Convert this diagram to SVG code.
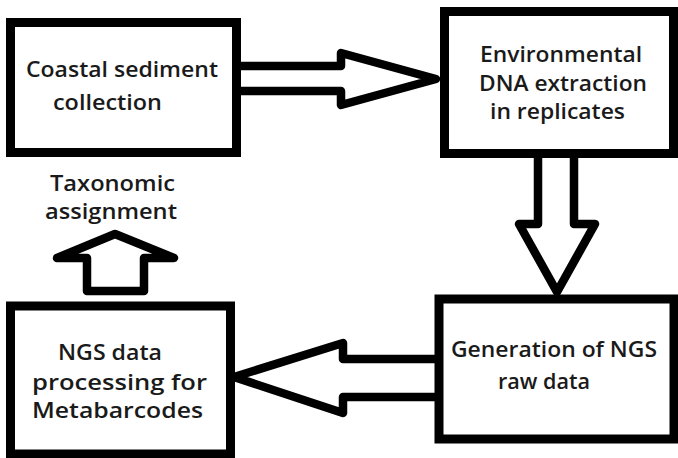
<svg xmlns="http://www.w3.org/2000/svg" width="678" height="458" viewBox="0 0 678 458">
  <style>
    .box { fill: #fff; stroke: #000; stroke-width: 9; }
    .arr { fill: #fff; stroke: #000; stroke-width: 8.5; stroke-linejoin: round; }
    .t { font-family: "Open Sans", "Liberation Sans", sans-serif; font-weight: 600; font-size: 22px; fill: #1a1a1a; }
    .s { font-size: 21px; }
  </style>
  <rect width="678" height="458" fill="#fff"/>
  <g id="connectors">
    <polyline class="arr" points="241,66 341,66 341,53 436,79 341,105 341,91 241,91"/>
    <polyline class="arr" points="538,158 538,224 519,224 557,292 595,224 574,224 574,158"/>
    <polyline class="arr" points="435,359 343,359 343,343 234,377 343,413 343,397 435,397"/>
    <polygon class="arr" points="87,291 87,258 57,258 115,234 174,258 144,258 144,291"/>
  </g>
  <g id="node-coastal">
    <rect class="box" x="10.5" y="22.5" width="226" height="130"/>
    <text class="t" x="26" y="77" textLength="192" lengthAdjust="spacingAndGlyphs">Coastal sediment</text>
    <text class="t" x="53" y="110" textLength="109" lengthAdjust="spacingAndGlyphs">collection</text>
  </g>
  <g id="node-extraction">
    <rect class="box" x="444.5" y="11.5" width="229" height="142"/>
    <text class="t" x="480" y="62" textLength="162" lengthAdjust="spacingAndGlyphs">Environmental</text>
    <text class="t" x="479" y="91" textLength="168" lengthAdjust="spacingAndGlyphs">DNA extraction</text>
    <text class="t" x="490" y="119" textLength="135" lengthAdjust="spacingAndGlyphs">in replicates</text>
  </g>
  <g id="node-generation">
    <rect class="box" x="439" y="299" width="235" height="140"/>
    <text class="t" x="451" y="357" textLength="206" lengthAdjust="spacingAndGlyphs">Generation of NGS</text>
    <text class="t" x="498" y="389" textLength="92" lengthAdjust="spacingAndGlyphs">raw data</text>
  </g>
  <g id="node-processing">
    <rect class="box" x="10.5" y="306" width="220" height="148"/>
    <text class="t" x="58" y="360" textLength="104" lengthAdjust="spacingAndGlyphs">NGS data</text>
    <text class="t" x="32" y="390" textLength="175" lengthAdjust="spacingAndGlyphs">processing for</text>
    <text class="t" x="32" y="418" textLength="171" lengthAdjust="spacingAndGlyphs">Metabarcodes</text>
  </g>
  <g id="node-taxonomic">
    <text class="t s" x="50" y="191" textLength="125" lengthAdjust="spacingAndGlyphs">Taxonomic</text>
    <text class="t s" x="45" y="219" textLength="132" lengthAdjust="spacingAndGlyphs">assignment</text>
  </g>
</svg>
